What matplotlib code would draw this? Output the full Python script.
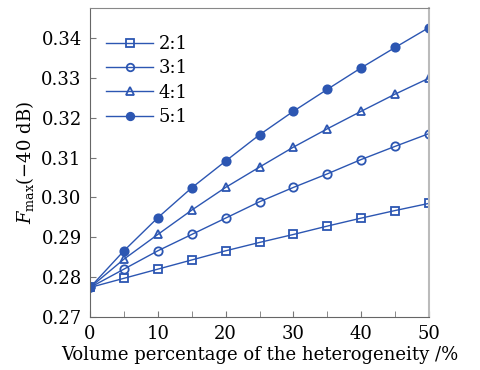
import matplotlib
matplotlib.use("Agg")
import matplotlib.pyplot as plt

x = [0, 5, 10, 15, 20, 25, 30, 35, 40, 45, 50]
s21 = [0.2774, 0.2797, 0.2820, 0.2843, 0.2866, 0.2887, 0.2907, 0.2928, 0.2948, 0.2967, 0.2985]
s31 = [0.2774, 0.2820, 0.2866, 0.2907, 0.2948, 0.2989, 0.3025, 0.3059, 0.3095, 0.3128, 0.3160]
s41 = [0.2774, 0.2845, 0.2907, 0.2968, 0.3025, 0.3076, 0.3126, 0.3172, 0.3216, 0.3259, 0.3299]
s51 = [0.2774, 0.2866, 0.2949, 0.3024, 0.3091, 0.3157, 0.3216, 0.3271, 0.3325, 0.3376, 0.3426]
labels = ["2:1", "3:1", "4:1", "5:1"]
xticks = [0, 10, 20, 30, 40, 50]
yticks = [0.27, 0.28, 0.29, 0.30, 0.31, 0.32, 0.33, 0.34]

plt.rcParams['font.family'] = ['DejaVu Serif']
plt.rcParams['mathtext.fontset'] = 'dejavuserif'

fig = plt.figure(figsize=(4.8, 3.7), dpi=100)
ax = fig.add_axes([90/480, 1-317/370, (429-90)/480, (317-8)/370])

c = '#2c56b2'
kw = dict(color=c, lw=1.0, ms=6, mew=1.3)
ax.plot(x, s21, marker='s', mfc='none', label=labels[0], **kw)
ax.plot(x, s31, marker='o', mfc='none', label=labels[1], **kw)
ax.plot(x, s41, marker='^', mfc='none', label=labels[2], **kw)
ax.plot(x, s51, marker='o', mfc=c, label=labels[3], **kw)

ax.set_xlim(0, 50)
ax.set_ylim(0.27, 0.3475)
ax.set_xticks(xticks)
ax.set_xticks(range(0, 51, 5), minor=True)
ax.set_yticks(yticks)
ax.set_yticklabels([f"{v:.2f}" for v in yticks])
ax.tick_params(direction='in', labelsize=13, length=4, color='#777777', pad=6)
ax.tick_params(which='minor', direction='in', length=4, color='#777777')
for s in ['left', 'bottom']:
    ax.spines[s].set_color('#666666')
ax.spines['top'].set_color('#888888')
ax.spines['right'].set_color('#bbbbbb')
ax.spines['right'].set_linewidth(1.5)

ax.set_xlabel("Volume percentage of the heterogeneity /%", fontsize=13, labelpad=2)
ax.set_ylabel(r"$F_{\mathrm{max}}$(−40 dB)", fontsize=13, labelpad=4)

ax.legend(loc='upper left', frameon=False, fontsize=13, handlelength=2.6,
          handletextpad=0.3, labelspacing=0.35, markerscale=0.9,
          bbox_to_anchor=(0.0, 0.965))

fig.savefig("out.png", dpi=100)
